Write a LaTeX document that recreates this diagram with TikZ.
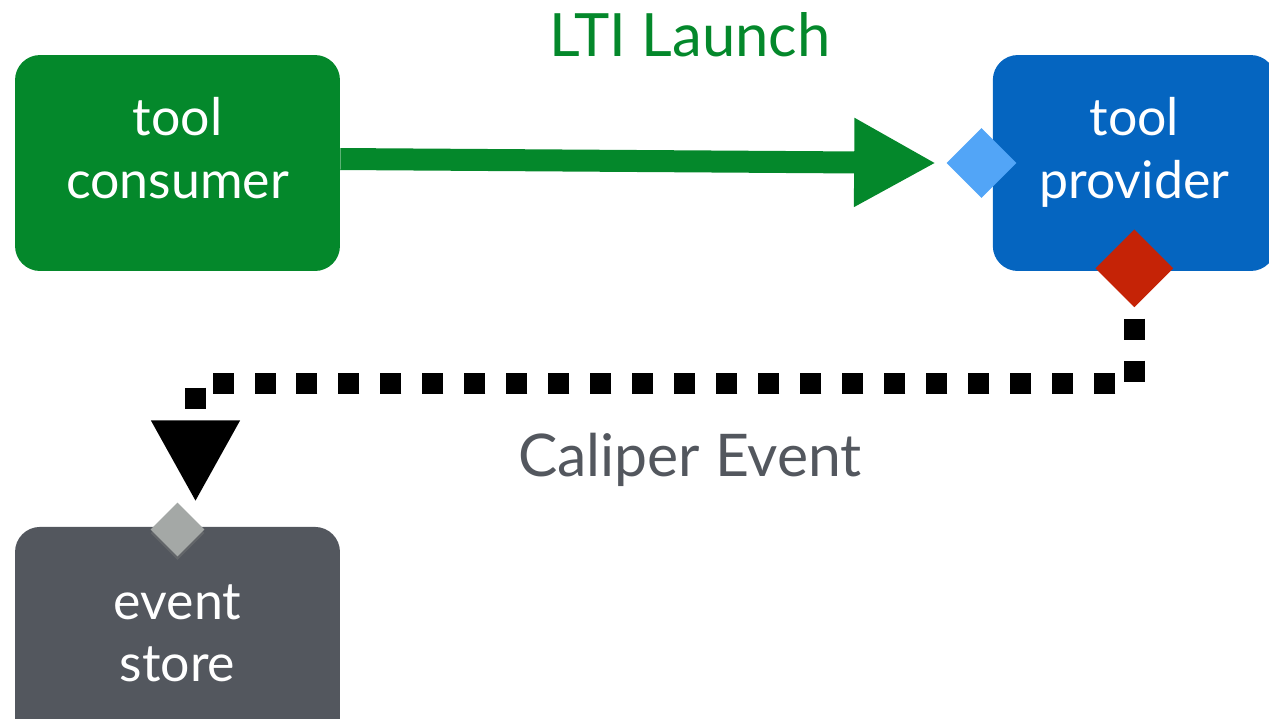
\documentclass[tikz,border=0pt]{standalone}
\usepackage{fontspec}
\setmainfont{Lato}
\usetikzlibrary{arrows.meta,shapes.geometric,shadows}
\definecolor{consumergreen}{HTML}{04882B}
\definecolor{providerblue}{HTML}{0565C0}
\definecolor{storegray}{HTML}{53575E}
\definecolor{launchblue}{HTML}{52A5F7}
\definecolor{eventred}{HTML}{C52306}
\definecolor{portgray}{HTML}{A4A8A6}

\begin{document}
\begin{tikzpicture}[x=0.02cm, y=-0.02cm, >={Triangle[length=1.64cm,width=1.66cm]}]
    \tikzstyle{box}=[rectangle,rounded corners=0.5cm,align=center,text=white,minimum width=6.5cm,minimum height=4.32cm,text height=2.2cm,text depth=0.8cm,font=\fontsize{29.5}{35.7}\selectfont]
    \tikzstyle{port}=[diamond,inner sep=0pt,minimum width=1.4cm,minimum height=1.4cm]
    \tikzstyle{flowlabel}=[font=\fontsize{34}{40}\selectfont]
    \useasboundingbox (0,0) rectangle (1269,718);
    \clip (0,0) rectangle (1269,718);
    \node[box,fill=consumergreen] (consumer) at (177.5,163) {tool\\consumer};
    \node[box,fill=providerblue,node distance=19.14cm,right of=consumer,minimum width=5.66cm] (provider) {tool\\provider};
    \node[box,fill=storegray,node distance=9.44cm,below of=consumer,text depth=0.32cm] (store) {event\\store};
    \node[port,fill=launchblue] (launchport) at ([xshift=-0.22cm]provider.west) {};
    \node[port,fill=eventred,minimum width=1.56cm,minimum height=1.56cm] (eventport) at ([yshift=0.06cm]provider.south) {};
    \node[port,fill=portgray,minimum width=1.08cm,minimum height=1.08cm,drop shadow={opacity=0.35,shadow xshift=0pt,shadow yshift=-2pt}] (storeport) at ([yshift=-0.06cm]store.north) {};
    \node[flowlabel,text=consumergreen] (launchlbl) at (690,35) {LTI Launch};
    \node[flowlabel,text=storegray,font=\fontsize{33.5}{40}\selectfont] (caliperlbl) at (690,460) {Caliper Event};
    \draw[->,line width=0.44cm,consumergreen] ([yshift=0.08cm]consumer.east) -- ([xshift=-0.2cm]launchport.west);
    \draw[->,line width=0.42cm,dash pattern=on 0.42cm off 0.42cm,dash phase=0.62cm] (eventport.south) -- ++(0,76) -| ([xshift=0.36cm]storeport.north);
\end{tikzpicture}
\end{document}
